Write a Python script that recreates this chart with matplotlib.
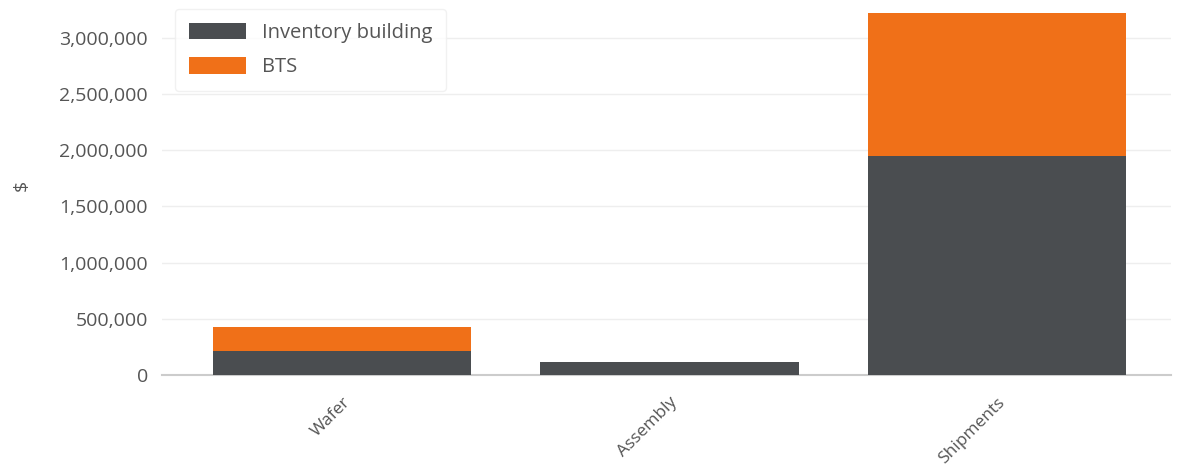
import matplotlib.pyplot as plt
from matplotlib.ticker import FuncFormatter

categories = ["Wafer", "Assembly", "Shipments"]
inventory_building = [215000, 115000, 1950000]
bts = [215000, 0, 1270000]
series_names = ["Inventory building", "BTS"]
colors = ["#4a4d50", "#f07018"]

plt.rcParams['font.family'] = ['Open Sans', 'DejaVu Sans']

fig, ax = plt.subplots(figsize=(11.89, 4.73), dpi=100)
fig.subplots_adjust(left=0.1362, right=0.9846, top=0.98, bottom=0.207)

x = range(len(categories))
ax.bar(x, inventory_building, width=0.79, color=colors[0], label=series_names[0], zorder=3)
ax.bar(x, bts, width=0.79, bottom=inventory_building, color=colors[1], label=series_names[1], zorder=3)

ax.set_xlim(-0.55, len(categories) - 0.47)
ax.set_ylim(0, 3250000)
ax.set_yticks(range(0, 3000001, 500000))
ax.yaxis.set_major_formatter(FuncFormatter(lambda v, p: f"{int(v):,}"))
ax.grid(axis='y', color='#eeeeee', linewidth=1, zorder=0)

ax.set_xticks(list(x))
ax.set_xticklabels(categories, rotation=45, ha='right', va='top', rotation_mode='anchor')
ax.tick_params(axis='both', length=0, labelsize=14, labelcolor='#555555', pad=10)
ax.tick_params(axis='x', labelsize=12.5, pad=14)

for side in ['top', 'right', 'left']:
    ax.spines[side].set_visible(False)
ax.spines['bottom'].set_color('#cccccc')
ax.spines['bottom'].set_linewidth(1.5)

ax.set_ylabel("$", fontsize=14, color='#555555')
ax.yaxis.set_label_coords(-0.13, 0.52)

ax.legend(loc='upper left', bbox_to_anchor=(0.003, 1.03), fontsize=14.5, frameon=True,
          edgecolor='#eeeeee', handlelength=2.8, handleheight=0.9, labelspacing=0.7,
          borderpad=0.7, labelcolor='#555555')

plt.savefig("out.png")
